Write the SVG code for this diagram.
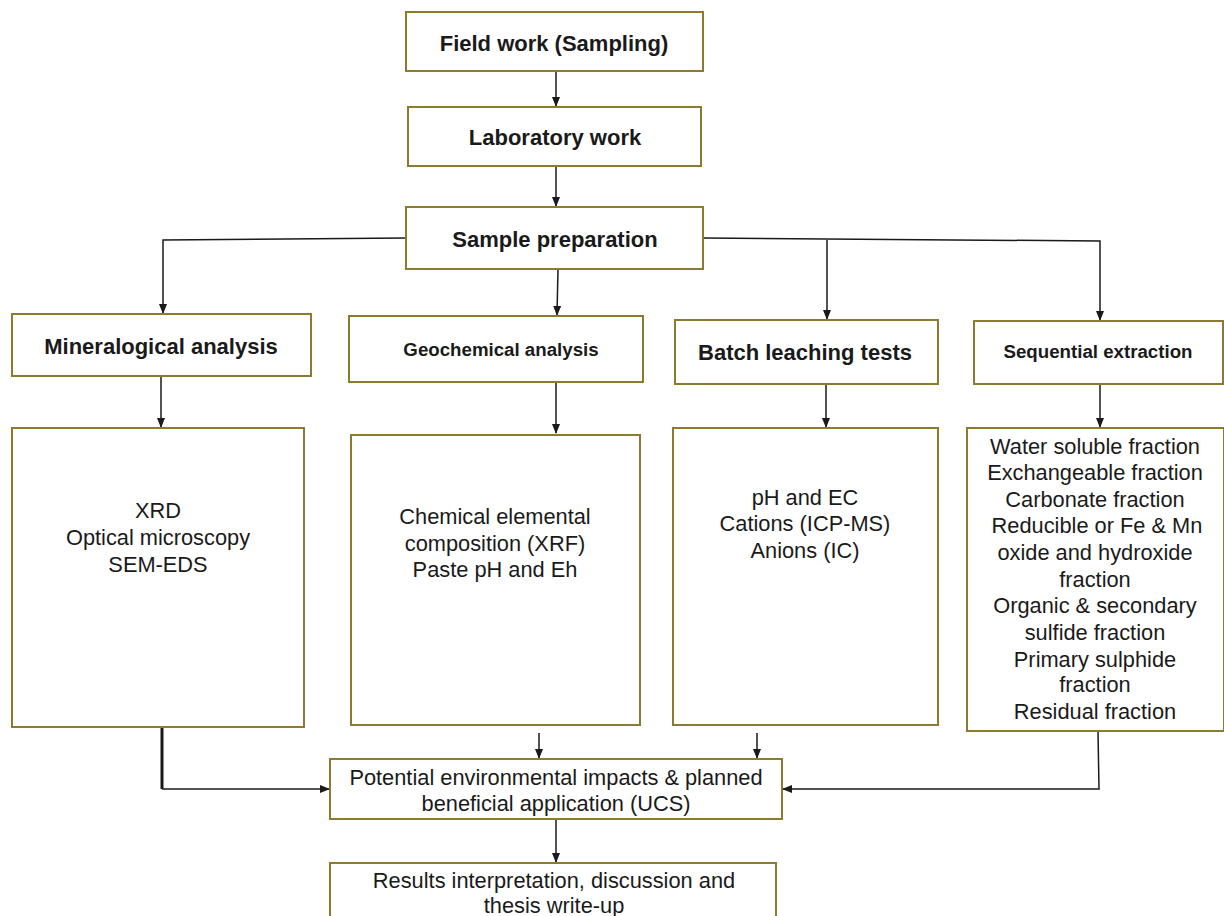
<svg xmlns="http://www.w3.org/2000/svg" width="1224" height="916" viewBox="0 0 1224 916">
<style>
.box{fill:#fff;stroke:#8c7a2f;stroke-width:2}
.t{font-family:"Liberation Sans",Arial,sans-serif;font-size:21.8px;fill:#1a1a1a;text-anchor:middle}
.b{font-weight:bold;font-size:22px}
.bs{font-weight:bold;font-size:18.7px}
.c{fill:none;stroke:#1a1a1a;stroke-width:1.5}
.thick{stroke-width:3}
</style>
<defs>
<marker id="ah" markerWidth="10" markerHeight="10" refX="9" refY="5" orient="auto" markerUnits="userSpaceOnUse">
<path d="M0,1 L10,5 L0,9 Z" fill="#1a1a1a"/>
</marker>
</defs>
<rect width="1224" height="916" fill="#fff"/>
<g id="connectors">
<path class="c" d="M556,71 V106" marker-end="url(#ah)"/>
<path class="c" d="M556,166 V206" marker-end="url(#ah)"/>
<path class="c" d="M406,238 L163,240 V313" marker-end="url(#ah)"/>
<path class="c" d="M558,269 L557,315" marker-end="url(#ah)"/>
<path class="c" d="M703,238 L1100,241 V320" marker-end="url(#ah)"/>
<path class="c" d="M827,240 V319" marker-end="url(#ah)"/>
<path class="c" d="M161,376 V427" marker-end="url(#ah)"/>
<path class="c" d="M556,382 V433" marker-end="url(#ah)"/>
<path class="c" d="M826,384 V427" marker-end="url(#ah)"/>
<path class="c" d="M1100,384 V427" marker-end="url(#ah)"/>
<path class="c thick" d="M162,727 V789"/>
<path class="c" d="M162,789 H329" marker-end="url(#ah)"/>
<path class="c" d="M539,733 V758" marker-end="url(#ah)"/>
<path class="c" d="M757,733 V758" marker-end="url(#ah)"/>
<path class="c" d="M1098,731 L1099,789 H783" marker-end="url(#ah)"/>
<path class="c" d="M556,819 V862" marker-end="url(#ah)"/>
</g>
<g id="field"><rect class="box" x="406" y="12" width="297" height="59"/><text class="t b" x="554" y="51">Field work (Sampling)</text></g>
<g id="lab"><rect class="box" x="408" y="107" width="293" height="59"/><text class="t b" x="555" y="145">Laboratory work</text></g>
<g id="prep"><rect class="box" x="406" y="207" width="297" height="62"/><text class="t b" x="555" y="247">Sample preparation</text></g>
<g id="mineral"><rect class="box" x="12" y="314" width="299" height="62"/><text class="t b" x="161" y="354">Mineralogical analysis</text></g>
<g id="geochem"><rect class="box" x="349" y="316" width="294" height="66"/><text class="t bs" x="501" y="356">Geochemical analysis</text></g>
<g id="batch"><rect class="box" x="675" y="320" width="263" height="64"/><text class="t b" x="805" y="360">Batch leaching tests</text></g>
<g id="seq"><rect class="box" x="974" y="321" width="249" height="63"/><text class="t bs" x="1098" y="358">Sequential extraction</text></g>
<g id="mineral-methods"><rect class="box" x="12" y="428" width="292" height="299"/>
<text class="t" x="158" y="518">XRD</text>
<text class="t" x="158" y="545">Optical microscopy</text>
<text class="t" x="158" y="572">SEM-EDS</text></g>
<g id="geochem-methods"><rect class="box" x="351" y="435" width="289" height="290"/>
<text class="t" x="495" y="524">Chemical elemental</text>
<text class="t" x="495" y="551">composition (XRF)</text>
<text class="t" x="495" y="577">Paste pH and Eh</text></g>
<g id="batch-methods"><rect class="box" x="673" y="428" width="265" height="297"/>
<text class="t" x="805" y="505">pH and EC</text>
<text class="t" x="805" y="531">Cations (ICP-MS)</text>
<text class="t" x="805" y="558">Anions (IC)</text></g>
<g id="seq-fractions"><rect class="box" x="967" y="428" width="257" height="303"/>
<text class="t" x="1095" y="454">Water soluble fraction</text>
<text class="t" x="1095" y="480">Exchangeable fraction</text>
<text class="t" x="1095" y="507">Carbonate fraction</text>
<text class="t" x="1097" y="533">Reducible or Fe &amp; Mn</text>
<text class="t" x="1095" y="560">oxide and hydroxide</text>
<text class="t" x="1095" y="587">fraction</text>
<text class="t" x="1095" y="613">Organic &amp; secondary</text>
<text class="t" x="1095" y="640">sulfide fraction</text>
<text class="t" x="1095" y="667">Primary sulphide</text>
<text class="t" x="1095" y="692">fraction</text>
<text class="t" x="1095" y="719">Residual fraction</text></g>
<g id="impacts"><rect class="box" x="330" y="759" width="452" height="60"/>
<text class="t" x="556" y="785">Potential environmental impacts &amp; planned</text>
<text class="t" x="556" y="811">beneficial application (UCS)</text></g>
<g id="results"><rect class="box" x="330" y="863" width="446" height="60"/>
<text class="t" x="554" y="888">Results interpretation, discussion and</text>
<text class="t" x="554" y="913">thesis write-up</text></g>
</svg>
